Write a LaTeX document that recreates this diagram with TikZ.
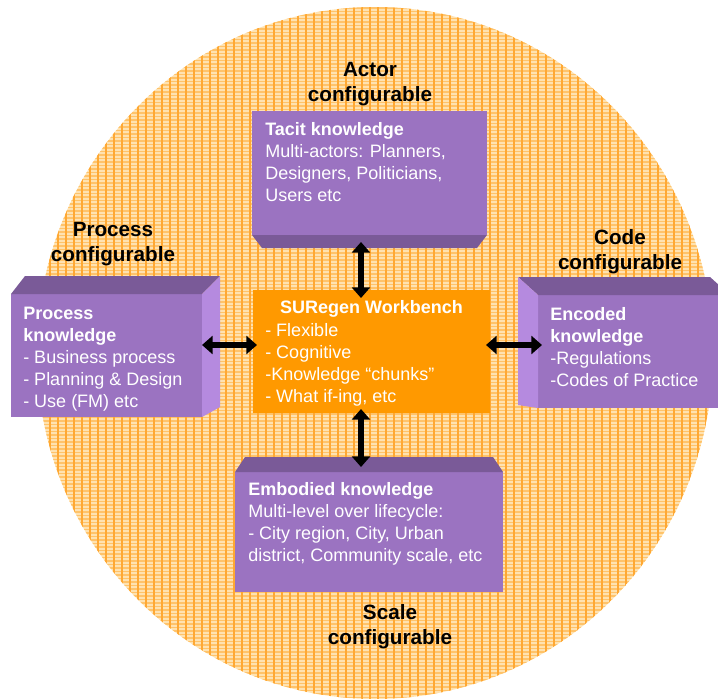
\documentclass[tikz,border=0pt]{standalone}
\usepackage{fontspec}
\setmainfont{Liberation Sans}
\usetikzlibrary{calc,arrows.meta}

\definecolor{discbase}{HTML}{FFE2B0}
\definecolor{discband}{HTML}{FFC36A}
\definecolor{discrib}{HTML}{FFA833}
\definecolor{boxfront}{HTML}{9B73C1}
\definecolor{boxdark}{HTML}{7A5A98}
\definecolor{boxlight}{HTML}{B58ADF}
\definecolor{hubfill}{HTML}{FF9900}

\tikzset{
  front/.style={draw=none, fill=boxfront, inner sep=0pt, outer sep=0pt},
  darkface/.style={fill=boxdark},
  lightface/.style={fill=boxlight},
  hubbox/.style={fill=hubfill, inner sep=0pt, outer sep=0pt},
  boxtext/.style={text=white, align=left, inner sep=0pt, anchor=north west,
    font=\fontsize{13.5}{16.5}\selectfont},
  hubtitle/.style={text=white, inner sep=0pt, anchor=base,
    font=\bfseries\fontsize{13.5}{16.5}\selectfont},
  heading/.style={align=center, inner sep=0pt, anchor=north,
    font=\bfseries\fontsize{15.5}{18.75}\selectfont},
  link/.style={line width=4.2pt, {Triangle[width=13.5pt,length=8pt]}-{Triangle[width=13.5pt,length=8pt]}}
}

\begin{document}
\begin{tikzpicture}[x=0.75pt,y=-0.75pt]
\useasboundingbox (0,0) rectangle (718,700);

% woven orange disc
\begin{scope}
  \clip (375,353) ellipse [x radius=338, y radius=346];
  \fill[discbase] (0,0) rectangle (718,700);
  \foreach \yy in {1,4.5,...,700}
    \draw[discband, line width=1.3pt] (0,\yy) -- (718,\yy);
  \foreach \xx in {2,10,...,718}
    \draw[discrib, line width=0.8pt] (\xx,0) -- (\xx,700);
\end{scope}

% front faces of the knowledge blocks and the central workbench
\node[front, minimum width=176.25pt, minimum height=93pt] (tacit) at (369.5,173) {};
\node[front, minimum width=143.25pt, minimum height=92.25pt] (process) at (106.5,355.5) {};
\node[front, minimum width=144pt, minimum height=84.75pt] (encoded) at (634,351.5) {};
\node[front, minimum width=201pt, minimum height=90pt] (embodied) at (369,532) {};
\node[hubbox, minimum width=177.75pt, minimum height=92.25pt] (hub) at (371.5,351.5) {};

% depth faces
\fill[darkface] (tacit.south west) -- (tacit.south east)
  -- ($(tacit.south east)+(-10,13)$) -- ($(tacit.south west)+(10,13)$) -- cycle;
\fill[darkface] (process.north west) -- (process.north east)
  -- ($(process.north east)+(18,-18)$) -- ($(process.north west)+(14,-18)$) -- cycle;
\fill[lightface] (process.north east) -- ($(process.north east)+(18,-18)$)
  -- ($(process.south east)+(18,-10)$) -- (process.south east) -- cycle;
\fill[darkface] (encoded.north west) -- ($(encoded.north west)+(-20,-18)$)
  -- ($(encoded.north east)+(-20,-18)$) -- (encoded.north east) -- cycle;
\fill[lightface] (encoded.north west) -- ($(encoded.north west)+(-20,-18)$)
  -- ($(encoded.south west)+(-20,-3)$) -- (encoded.south west) -- cycle;
\fill[darkface] (embodied.north west) -- ($(embodied.north west)+(10,-15)$)
  -- ($(embodied.north east)+(-10,-15)$) -- (embodied.north east) -- cycle;

% connector ends on the depth faces
\coordinate (tacitB) at ($(tacit.south)+(-8.5,13)$);
\coordinate (embT) at ($(embodied.north)+(-8,-15)$);
\coordinate (procR) at ($(process.east)+(0,-10.5)$);
\coordinate (encL) at ($(encoded.west)+(0,-6.5)$);

% block texts
\node[boxtext] (tacitTxt) at (265,122.5)
  {\textbf{Tacit knowledge}\\Multi-actors: Planners,\\Designers, Politicians,\\Users etc};
\node[boxtext] (processTxt) at (23,307)
  {\textbf{Process}\\\textbf{knowledge}\\- Business process\\- Planning \& Design\\- Use (FM) etc};
\node[boxtext] (encodedTxt) at (550,307)
  {\textbf{Encoded}\\\textbf{knowledge}\\-Regulations\\-Codes of Practice};
\node[boxtext] (embodiedTxt) at (248,482)
  {\textbf{Embodied knowledge}\\Multi-level over lifecycle:\\- City region, City, Urban\\district, Community scale, etc};
\node[hubtitle] (hubTitle) at (371.5,313) {SURegen Workbench};
\node[boxtext] (hubTxt) at (265,323.5)
  {- Flexible\\- Cognitive\\-Knowledge “chunks”\\- What if-ing, etc};

% headings
\node[heading] (actorHd) at (370,62) {Actor\\configurable};
\node[heading] (processHd) at (113,222) {Process\\configurable};
\node[heading] (codeHd) at (620,229) {Code\\configurable};
\node[heading] (scaleHd) at (390,604) {Scale\\configurable};

% double-headed links
\draw[link, shorten <=-4.5pt, shorten >=-6pt] (tacitB) -- (tacitB |- hub.north);
\draw[link, shorten <=-3pt, shorten >=-7.5pt] (embT |- hub.south) -- (embT);
\draw[link, shorten <=0pt, shorten >=-3pt] (procR) -- (procR -| hub.west);
\draw[link, shorten <=-3pt, shorten >=-3pt] (encL -| hub.east) -- (encL);
\end{tikzpicture}
\end{document}
